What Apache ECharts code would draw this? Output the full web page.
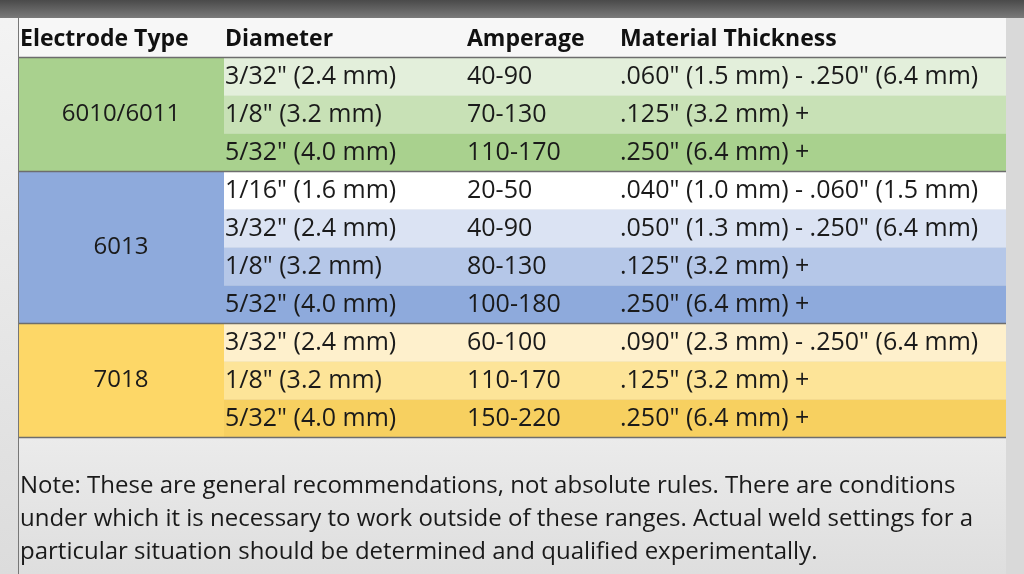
<!DOCTYPE html>
<html><head><meta charset="utf-8">
<script src="https://cdn.jsdelivr.net/npm/echarts@6/dist/echarts.min.js"></script>
<style>html,body{margin:0;padding:0;background:#e4e4e4}#c{width:1024px;height:574px}</style>
</head><body><div id="c"></div>
<script>
var headers = ['Electrode Type', 'Diameter', 'Amperage', 'Material Thickness'];
var groups = ['6010/6011', '6013', '7018'];
var groupSizes = [3, 4, 3];
var diameters = ['3/32" (2.4 mm)', '1/8" (3.2 mm)', '5/32" (4.0 mm)',
  '1/16" (1.6 mm)', '3/32" (2.4 mm)', '1/8" (3.2 mm)', '5/32" (4.0 mm)',
  '3/32" (2.4 mm)', '1/8" (3.2 mm)', '5/32" (4.0 mm)'];
var amperages = ['40-90', '70-130', '110-170', '20-50', '40-90', '80-130', '100-180', '60-100', '110-170', '150-220'];
var thickness = ['.060" (1.5 mm) - .250" (6.4 mm)', '.125" (3.2 mm) +', '.250" (6.4 mm) +',
  '.040" (1.0 mm) - .060" (1.5 mm)', '.050" (1.3 mm) - .250" (6.4 mm)', '.125" (3.2 mm) +', '.250" (6.4 mm) +',
  '.090" (2.3 mm) - .250" (6.4 mm)', '.125" (3.2 mm) +', '.250" (6.4 mm) +'];
var noteLines = ['Note: These are general recommendations, not absolute rules. There are conditions',
  'under which it is necessary to work outside of these ranges. Actual weld settings for a',
  'particular situation should be determined and qualified experimentally.'];

// styling / layout
var groupColors = ['#a9d18e', '#8eaadc', '#fdd767'];
var rowColors = ['#e3efdb', '#c8e1b6', '#a9d18e', '#ffffff', '#dbe3f3', '#b5c7e8', '#8eaadc', '#fef0cc', '#fde498', '#f7d060'];
var colX = [18, 224, 460, 612, 1006];
var textX = [0, 225, 467, 620];
var top0 = 18, headH = 39.5, rowH = 38;
var FONT = '"Open Sans", "Noto Sans", sans-serif';

var cells = [];
var y = top0 + headH, ri = 0;
groups.forEach(function (g, gi) {
  var h = groupSizes[gi] * rowH;
  cells.push({kind: 'group', x0: colX[0], x1: colX[1], y0: y, y1: y + h, fill: groupColors[gi], text: g});
  for (var k = 0; k < groupSizes[gi]; k++) {
    var yy = y + k * rowH;
    cells.push({kind: 'row', x0: colX[1], x1: colX[4], y0: yy, y1: yy + rowH, fill: rowColors[ri],
      texts: [diameters[ri], amperages[ri], thickness[ri]]});
    ri++;
  }
  y += h;
  cells.push({kind: 'line', x0: colX[0], x1: colX[4], y0: y, y1: y});
});
cells.push({kind: 'line', x0: colX[0], x1: colX[4], y0: top0 + headH, y1: top0 + headH});

var data = cells.map(function (c, i) { return [i]; });

var chart = echarts.init(document.getElementById('c'));
chart.setOption({
  animation: false,
  grid: {left: 0, right: 0, top: 0, bottom: 0},
  xAxis: {type: 'value', min: 0, max: 1024, show: false},
  yAxis: {type: 'value', min: 0, max: 574, inverse: true, show: false},
  graphic: [
    {type: 'rect', z: -10, shape: {x: 0, y: 0, width: 1024, height: 574},
      style: {fill: new echarts.graphic.LinearGradient(0, 0, 0, 1, [{offset: 0, color: '#f4f4f4'}, {offset: 1, color: '#dcdcdc'}])}},
    {type: 'rect', z: -9, shape: {x: 0, y: 0, width: 1024, height: 18},
      style: {fill: new echarts.graphic.LinearGradient(0, 0, 0, 1, [{offset: 0, color: '#4a4a4a'}, {offset: 1, color: '#7a7a7a'}])}},
    {type: 'rect', z: -8, shape: {x: 18, y: 18, width: 988, height: 40}, style: {fill: '#f7f7f7'}},
    {type: 'rect', z: -8, shape: {x: 1006, y: 18, width: 18, height: 556}, style: {fill: '#d9d9d9'}},
    {type: 'rect', z: -8, shape: {x: 18, y: 438, width: 988, height: 136},
      style: {fill: new echarts.graphic.LinearGradient(0, 0, 0, 1, [{offset: 0, color: '#ebebeb'}, {offset: 1, color: '#dedede'}])}},
    {type: 'line', z: 50, shape: {x1: 18.5, y1: 18, x2: 18.5, y2: 574}, style: {stroke: '#777', lineWidth: 1}}
  ].concat(headers.map(function (h, i) {
    return {type: 'text', z: 60, style: {x: i === 0 ? 20 : textX[i], y: 39, text: h, font: 'bold 23px ' + FONT, fill: '#111', verticalAlign: 'middle'}};
  })).concat(noteLines.map(function (t, i) {
    return {type: 'text', z: 60, style: {x: 20, y: 486 + i * 33, text: t, font: '24px ' + FONT, fill: '#1a1a1a', verticalAlign: 'middle'}};
  })),
  series: [{
    type: 'custom',
    data: data,
    renderItem: function (params, api) {
      var c = cells[api.value(0)];
      var p0 = api.coord([c.x0, c.y0]), p1 = api.coord([c.x1, c.y1]);
      if (c.kind === 'line') {
        return {type: 'line', z2: 20, shape: {x1: p0[0], y1: p0[1], x2: p1[0], y2: p1[1]}, style: {stroke: '#6d6d6d', lineWidth: 1.5}};
      }
      var rect = {type: 'rect', shape: {x: p0[0], y: p0[1], width: p1[0] - p0[0], height: p1[1] - p0[1]}, style: {fill: c.fill}};
      var cy = (p0[1] + p1[1]) / 2;
      var children = [rect];
      if (c.kind === 'group') {
        children.push({type: 'text', z2: 10, style: {x: (p0[0] + p1[0]) / 2, y: cy, text: c.text, font: '24px ' + FONT, fill: '#1a1a1a', align: 'center', verticalAlign: 'middle'}});
      } else {
        c.texts.forEach(function (t, j) {
          children.push({type: 'text', z2: 10, style: {x: api.coord([textX[j + 1], 0])[0], y: cy, text: t, font: '25px ' + FONT, fill: '#1a1a1a', verticalAlign: 'middle'}});
        });
      }
      return {type: 'group', children: children};
    }
  }]
});
</script></body></html>
